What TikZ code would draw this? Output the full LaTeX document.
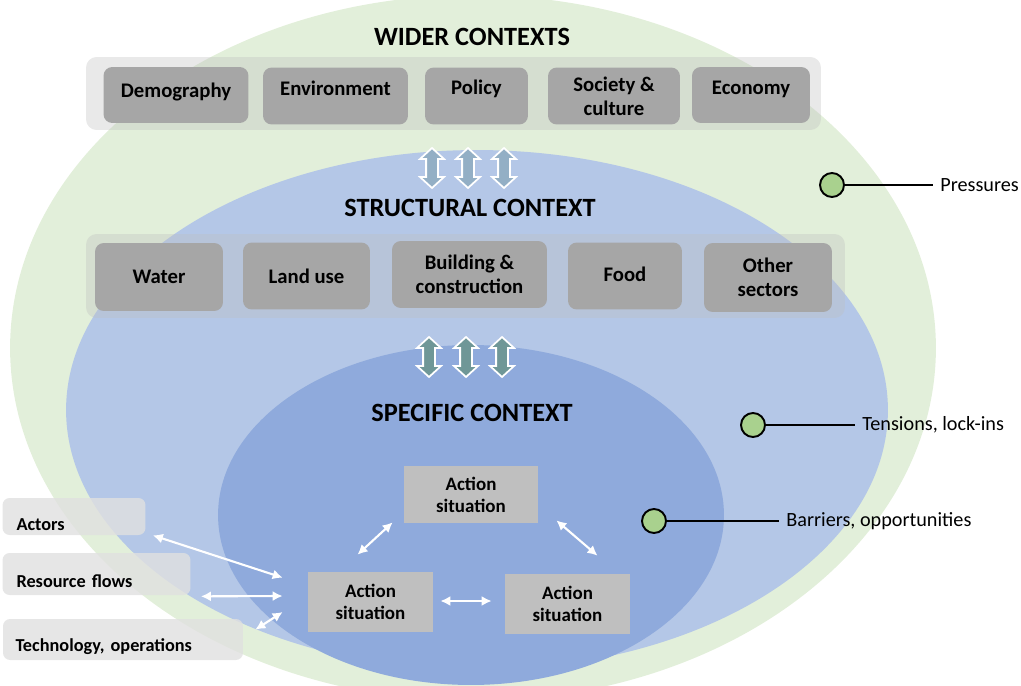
\documentclass[tikz,border=0pt]{standalone}
\usepackage{fontspec}
\setmainfont{Carlito}
\usepackage{xcolor}
\usetikzlibrary{shapes.arrows, arrows.meta, positioning, calc}
\definecolor{widergreen}{RGB}{226,239,218}
\definecolor{structblue}{RGB}{180,199,231}
\definecolor{specblue}{RGB}{143,170,220}
\definecolor{boxgray}{RGB}{166,166,166}
\definecolor{actgray}{RGB}{191,191,191}
\definecolor{dotgreen}{RGB}{169,209,142}
\definecolor{upperarr}{RGB}{147,175,197}
\definecolor{lowerarr}{RGB}{111,151,151}
% shift a label inside its box without changing the box
\newcommand{\lift}[2]{\raisebox{#1}[\height][\depth]{#2}}

\begin{document}
\begin{tikzpicture}[
  x=0.02cm, y=-0.02cm,
  every node/.style={font=\fontsize{10.5}{12.5}\selectfont},
  title/.style={font=\fontsize{15}{17}\selectfont\bfseries},
  band/.style={rectangle, rounded corners=6pt, fill=black!25, fill opacity=0.35},
  sector/.style={rectangle, rounded corners=5pt, fill=boxgray, align=center, inner sep=2pt, font=\fontsize{11.8}{13.5}\selectfont\bfseries},
  action/.style={rectangle, fill=actgray, align=center, font=\fontsize{10.8}{12.5}\selectfont\bfseries},
  side/.style={rectangle, rounded corners=4pt, fill=black!12, fill opacity=0.8, text opacity=1, align=left, inner xsep=0.28cm, font=\fontsize{10.4}{12}\selectfont\bfseries},
  updown/.style={shape=double arrow, rotate=90, draw=white, line width=1pt, minimum height=0.8cm, minimum width=0.44cm, inner sep=0.1cm, double arrow head extend=0.12cm, double arrow tip angle=95},
  dot/.style={circle, draw=black, line width=1.1pt, fill=dotgreen, minimum size=0.48cm, inner sep=0pt},
  lbl/.style={anchor=west, inner sep=0.08cm, font=\fontsize{11.5}{13}\selectfont},
  warr/.style={{Latex[length=2mm,width=2mm]}-{Latex[length=2mm,width=2mm]}, white, line width=1.2pt}
]
\useasboundingbox (0,0) rectangle (1021,686);
\clip (0,0) rectangle (1021,686);

% nested contexts
\fill[widergreen] (473,348) ellipse [x radius=9.26cm, y radius=7.06cm];
\fill[structblue] (477,410) ellipse [x radius=8.22cm, y radius=5.2cm];
\fill[specblue]   (471,515) ellipse [x radius=5.06cm, y radius=3.4cm];

% wider contexts row
\node[title] (wider) at (472,37) {WIDER CONTEXTS};
\node[band, minimum width=14.7cm, minimum height=1.46cm] (widerband) at (453.5,93.5) {};
\node[sector, minimum width=2.9cm,  minimum height=1.12cm] (demo) at (176,95)   {\lift{0.06cm}{Demography}};
\node[sector, minimum width=2.9cm,  minimum height=1.14cm] (env)  at (335.5,96) {\lift{0.15cm}{Environment}};
\node[sector, minimum width=2.06cm, minimum height=1.14cm] (pol)  at (476.5,96) {\lift{0.15cm}{Policy}};
\node[sector, minimum width=2.64cm, minimum height=1.14cm] (soc)  at (614,96)   {Society \&\\culture};
\node[sector, minimum width=2.36cm, minimum height=1.12cm] (eco)  at (751,95)   {\lift{0.12cm}{Economy}};

% links between levels
\foreach \xx in {432,468,504}
  \node[updown, fill=upperarr] at (\xx,168) {};
\foreach \xx in {429,466,502}
  \node[updown, fill=lowerarr] at (\xx,357) {};

% structural context row
\node[title] (struct) at (470,208) {STRUCTURAL CONTEXT};
\node[band, minimum width=15.18cm, minimum height=1.68cm] (structband) at (465.5,276) {};
\node[sector, minimum width=2.56cm, minimum height=1.36cm] (water) at (159,277)   {Water};
\node[sector, minimum width=2.54cm, minimum height=1.34cm] (land)  at (306.5,276) {Land use};
\node[sector, minimum width=3.1cm,  minimum height=1.34cm] (build) at (469.5,274.5) {Building \&\\construction};
\node[sector, minimum width=2.28cm, minimum height=1.34cm] (food)  at (625,276)   {\lift{0.04cm}{Food}};
\node[sector, minimum width=2.56cm, minimum height=1.38cm] (other) at (768,277.5) {Other\\sectors};

% specific context
\node[title] (spec) at (472,413) {SPECIFIC CONTEXT};
\node[action, minimum width=2.68cm, minimum height=1.14cm] (acttop)   at (471,494.5) {Action\\situation};
\node[action, minimum width=2.5cm,  minimum height=1.2cm]  (actleft)  at (370.5,602) {Action\\situation};
\node[action, minimum width=2.5cm,  minimum height=1.2cm]  (actright) at (567.5,604) {Action\\situation};

\draw[warr] ($(actleft.north)+(-13,-17)$) -- ($(acttop.south west)+(-11,-1)$);
\draw[warr] ($(acttop.south east)+(18,-3)$) -- ($(actright.north)+(30,-18)$);
\draw[warr] ($(actleft.east)+(7,-1)$) -- ($(actright.west)+(-13,-3)$);

% inputs on the left
\node[side, minimum width=2.84cm, minimum height=0.74cm, text width=2.3cm] (actors) at (74,516.5) {\lift{-0.16cm}{Actors}};
\node[side, minimum width=3.74cm, minimum height=0.84cm, text width=3.2cm] (flows)  at (96.5,574) {\lift{-0.14cm}{Resource flows}};
\node[side, minimum width=4.8cm,  minimum height=0.82cm, text width=4.3cm, inner xsep=0.24cm] (tech) at (123,639.5) {\lift{-0.14cm}{Technology, operations}};

\draw[warr] ($(actors.south east)+(7,0)$) -- ($(actleft.north west)+(-25,6)$);
\draw[warr] ($(flows.south east)+(10,1)$) -- ($(actleft.west)+(-25,-6)$);
\draw[warr] ($(tech.north east)+(12,11)$) -- ($(actleft.west)+(-25,10)$);

% legend on the right
\node[dot] (pressdot) at (832,185) {};
\node[lbl] (press) at (936,185) {Pressures};
\draw[line width=1pt] (pressdot) -- ($(press.west)+(-3,0)$);

\node[dot] (lockdot) at (753,425) {};
\node[lbl] (lock) at (858,425) {Tensions, lock-ins};
\draw[line width=1pt] (lockdot) -- ($(lock.west)+(-3,0)$);

\node[dot] (barrdot) at (654,521) {};
\node[lbl] (barr) at (782,521) {Barriers, opportunities};
\draw[line width=1pt] (barrdot) -- ($(barr.west)+(-3,0)$);
\end{tikzpicture}
\end{document}
